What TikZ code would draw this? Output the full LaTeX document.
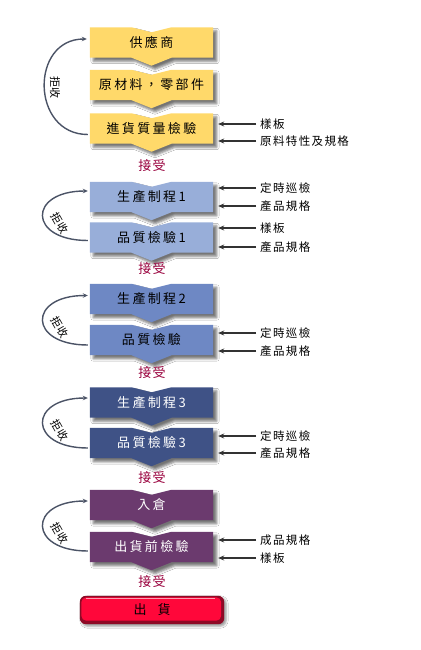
\documentclass[tikz,border=0pt]{standalone}
\usepackage{fontspec}
\newfontfamily\cjkbox[LetterSpace=18]{Noto Sans CJK TC}
\newfontfamily\cjkside[LetterSpace=12]{Noto Sans CJK TC}
\newfontfamily\cjkacc[LetterSpace=8]{Noto Sans CJK TC}
\newfontfamily\cjk{Noto Sans CJK TC}
\usetikzlibrary{calc,shadows.blur,arrows.meta,backgrounds}
\definecolor{yelbox}{HTML}{FFD96A}
\definecolor{lblue}{HTML}{98AED9}
\definecolor{mblue}{HTML}{6E88C4}
\definecolor{dblue}{HTML}{3F5286}
\definecolor{purp}{HTML}{6B3A6E}
\definecolor{accc}{HTML}{99003D}
\definecolor{shipred}{HTML}{FF073A}
\definecolor{shipdark}{HTML}{8E0A26}
\definecolor{rejc}{HTML}{4B5366}
\definecolor{arrc}{HTML}{333333}
\tikzset{
  boxnode/.style={minimum width=123pt, minimum height=30pt, inner sep=0pt,
    font={\fontsize{13}{15}\selectfont\cjkbox}},
  boxshadow/.style={blur shadow={shadow xshift=3.5pt, shadow yshift=-3.5pt,
    shadow blur radius=2.5pt, shadow opacity=55}},
  sidelbl/.style={anchor=west, inner sep=1pt, font={\fontsize{11.5}{13}\selectfont\cjkside}},
  sidearr/.style={draw=arrc, line width=1.5pt, -{Stealth[length=6pt,width=5pt]}, shorten <=3pt},
  acclbl/.style={text=accc, inner sep=0pt, font={\fontsize{13}{15}\selectfont\cjkacc}},
  rejarr/.style={draw=rejc, line width=1.4pt, -{Stealth[length=5pt,width=4.5pt]}},
  rejlbl/.style={inner sep=0pt, font={\fontsize{11}{13}\selectfont\cjk}},
}
\newcommand\chevbox[5]{%
  \node[boxnode, text=#4] (#1) at (151.5,#2) {#5};
  \begin{scope}[on background layer]
    \fill[#3, boxshadow] (#1.north west) -- ($(#1.north)+(-20,0)$) -- ($(#1.north)+(0,5)$)
      -- ($(#1.north)+(20,0)$) -- (#1.north east) -- (#1.south east)
      -- ($(#1.south)+(20,0)$) -- ($(#1.south)+(0,8)$) -- ($(#1.south)+(-20,0)$)
      -- (#1.south west) -- cycle;
  \end{scope}}
\begin{document}
\begin{tikzpicture}[x=1pt, y=-1pt]
\useasboundingbox (0,0) rectangle (420,650);
\begin{scope}[on background layer]
\fill[white] (0,0) rectangle (420,650);
\end{scope}

% group 1
\chevbox{sup}{42.5}{yelbox}{black}{供應商}
\chevbox{raw}{85}{yelbox}{black}{原材料，零部件}
\chevbox{iqc}{128.5}{yelbox}{black}{進貨質量檢驗}
\node[acclbl] (acc1) at (152,166) {接受};
\node[sidelbl] (s1a) at (259,124) {樣板};
\node[sidelbl] (s1b) at (259,141) {原料特性及規格};
\draw[sidearr] (s1a.west) -- ($(iqc.east|-s1a.west)+(5,0)$);
\draw[sidearr] (s1b.west) -- ($(iqc.east|-s1b.west)+(5,0)$);
\draw[rejarr] ($(iqc.west)+(-2,6)$) .. controls +(-57,0) and +(-57,0) .. ($(sup.west)+(-3,-3.5)$);
\node[rejlbl, rotate=-90] (r1) at (55,88) {拒收};

% group 2
\chevbox{p1}{197}{lblue}{black}{生產制程1}
\chevbox{q1}{237.5}{lblue}{black}{品質檢驗1}
\node[acclbl] (acc2) at (152,269) {接受};
\node[sidelbl] (s2a) at (259,188) {定時巡檢};
\node[sidelbl] (s2b) at (259,206) {產品規格};
\node[sidelbl] (s2c) at (259,228) {樣板};
\node[sidelbl] (s2d) at (259,247) {產品規格};
\draw[sidearr] (s2a.west) -- ($(p1.east|-s2a.west)+(5,0)$);
\draw[sidearr] (s2b.west) -- ($(p1.east|-s2b.west)+(5,0)$);
\draw[sidearr] (s2c.west) -- ($(q1.east|-s2c.west)+(5,0)$);
\draw[sidearr] (s2d.west) -- ($(q1.east|-s2d.west)+(5,0)$);
\draw[rejarr] ($(q1.west)+(-2,3)$) .. controls +(-60,0) and +(-60,0) .. ($(p1.west)+(-2,-6)$);
\node[rejlbl, rotate=-60] (r2) at (60,223) {拒收};

% group 3
\chevbox{p2}{299}{mblue}{black}{生產制程2}
\chevbox{q2}{340}{mblue}{black}{品質檢驗}
\node[acclbl] (acc3) at (152,373) {接受};
\node[sidelbl] (s3a) at (259,333) {定時巡檢};
\node[sidelbl] (s3b) at (259,351) {產品規格};
\draw[sidearr] (s3a.west) -- ($(q2.east|-s3a.west)+(5,0)$);
\draw[sidearr] (s3b.west) -- ($(q2.east|-s3b.west)+(5,0)$);
\draw[rejarr] ($(q2.west)+(-2,5)$) .. controls +(-60,0) and +(-60,0) .. ($(p2.west)+(-2,-3.5)$);
\node[rejlbl, rotate=-60] (r3) at (60,327) {拒收};

% group 4
\chevbox{p3}{402.5}{dblue}{white}{生產制程3}
\chevbox{q3}{443}{dblue}{white}{品質檢驗3}
\node[acclbl] (acc4) at (152,478) {接受};
\node[sidelbl] (s4a) at (259,436) {定時巡檢};
\node[sidelbl] (s4b) at (259,453) {產品規格};
\draw[sidearr] (s4a.west) -- ($(q3.east|-s4a.west)+(5,0)$);
\draw[sidearr] (s4b.west) -- ($(q3.east|-s4b.west)+(5,0)$);
\draw[rejarr] ($(q3.west)+(-2,5)$) .. controls +(-60,0) and +(-60,0) .. ($(p3.west)+(-2,-4.5)$);
\node[rejlbl, rotate=-60] (r4) at (60,430) {拒收};

% group 5
\chevbox{wh}{505}{purp}{white}{入倉}
\chevbox{oqc}{547}{purp}{white}{出貨前檢驗}
\node[acclbl] (acc5) at (152,582) {接受};
\node[sidelbl] (s5a) at (259,540) {成品規格};
\node[sidelbl] (s5b) at (259,558) {樣板};
\draw[sidearr] (s5a.west) -- ($(oqc.east|-s5a.west)+(5,0)$);
\draw[sidearr] (s5b.west) -- ($(oqc.east|-s5b.west)+(5,0)$);
\draw[rejarr] ($(oqc.west)+(-2,4)$) .. controls +(-60,0) and +(-60,0) .. ($(wh.west)+(-2,-4)$);
\node[rejlbl, rotate=-60] (r5) at (60,533) {拒收};

% ship button
\node[minimum width=144pt, minimum height=28pt, inner sep=0pt,
  font={\fontsize{13}{15}\selectfont\cjk}] (ship) at (152,610) {出\hspace{11pt}貨};
\begin{scope}[on background layer]
  \fill[shipdark, rounded corners=6pt, blur shadow={shadow xshift=2pt, shadow yshift=-2pt,
    shadow blur radius=2pt, shadow opacity=40}] (ship.north west) rectangle (ship.south east);
  \fill[shipred, rounded corners=5pt] ($(ship.north west)+(1.5,1.5)$) rectangle ($(ship.south east)+(-3,-3.5)$);
  \draw[shipred!40!white, line width=1pt] ($(ship.north west)+(6,2.2)$) -- ($(ship.north east)+(-9,2.2)$);
\end{scope}
\end{tikzpicture}
\end{document}
